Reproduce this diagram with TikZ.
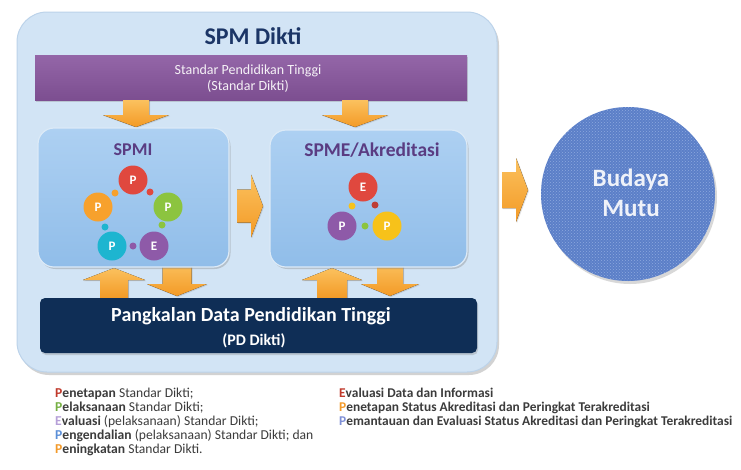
\documentclass[tikz,border=0pt]{standalone}
\usepackage{fontspec}
\setmainfont{Carlito}
\usetikzlibrary{shadows,patterns}
\definecolor{outerfill}{HTML}{D2E4F5}
\definecolor{outerdraw}{HTML}{BCD3EA}
\definecolor{titleblue}{HTML}{1B3566}
\definecolor{barpurple}{HTML}{7C4E90}
\definecolor{barpurpletop}{HTML}{9466A8}
\definecolor{innertop}{HTML}{ADD0F2}
\definecolor{innerbot}{HTML}{90BDE9}
\definecolor{innerdraw}{HTML}{DCEAF7}
\definecolor{boxtitle}{HTML}{5A3C82}
\definecolor{navy}{HTML}{0F2E56}
\definecolor{arrowtop}{HTML}{FBC15E}
\definecolor{arrowbot}{HTML}{F39A26}
\definecolor{budaya}{HTML}{5B7FC8}
\definecolor{budayalight}{HTML}{8EA9DE}
\definecolor{cred}{HTML}{E0483E}
\definecolor{cgreen}{HTML}{8CC43F}
\definecolor{corange}{HTML}{F7A12D}
\definecolor{cteal}{HTML}{1DB5D0}
\definecolor{cpurple}{HTML}{8E5AA8}
\definecolor{cyellow}{HTML}{F7C21A}
\definecolor{legtext}{HTML}{3C3C3C}
\definecolor{lred}{HTML}{C0392B}
\definecolor{lgreen}{HTML}{76B043}
\definecolor{llav}{HTML}{B6A0D8}
\definecolor{lblue}{HTML}{5B8FD8}
\definecolor{lorange}{HTML}{F39A2A}
\definecolor{lpurp}{HTML}{7E8FD6}
\newcommand\vertarr[6]{% cx, base y, tip y, shaft, head, signed headlen
  \fill[arrowstyle] ({#1-#4/2},#2) -- ({#1+#4/2},#2) -- ({#1+#4/2},{#3-#6}) -- ({#1+#5/2},{#3-#6}) -- (#1,#3) -- ({#1-#5/2},{#3-#6}) -- ({#1-#4/2},{#3-#6}) -- cycle;}
\newcommand\horarr[6]{% cy, base x, tip x, shaft, head, headlen
  \fill[arrowstyle] (#2,{#1-#4/2}) -- (#2,{#1+#4/2}) -- ({#3-#6},{#1+#4/2}) -- ({#3-#6},{#1+#5/2}) -- (#3,#1) -- ({#3-#6},{#1-#5/2}) -- ({#3-#6},{#1-#4/2}) -- cycle;}
\begin{document}
\begin{tikzpicture}[x=1pt,y=-1pt,
  arrowstyle/.style={top color=arrowtop,bottom color=arrowbot,drop shadow={opacity=0.25,shadow xshift=1pt,shadow yshift=-1pt}},
  innerbox/.style={rounded corners=16pt,top color=innertop,bottom color=innerbot,draw=innerdraw,line width=1.2pt,drop shadow={opacity=0.35,shadow xshift=1.5pt,shadow yshift=-2pt}},
  bigc/.style={circle,minimum size=29pt,inner sep=0pt,text=white,font=\fontsize{13}{13}\selectfont\bfseries},
  dot/.style={circle,minimum size=7pt,inner sep=0pt},
  leg/.style={anchor=base west,inner sep=0pt,text=legtext,font=\fontsize{13.6}{14}\selectfont}]
\useasboundingbox (0,0) rectangle (741,469);
\fill[white] (0,0) rectangle (741,469);
% outer container
\draw[outerdraw,fill=outerfill,line width=1pt,rounded corners=30pt,drop shadow={opacity=0.35,shadow xshift=2pt,shadow yshift=-3pt}] (17,12) rectangle (497,372);
\node[text=titleblue,font=\fontsize{24}{28}\selectfont\bfseries] (title) at (253,36) {SPM Dikti};
% purple bar
\node[draw=none,top color=barpurpletop,bottom color=barpurple,minimum width=432pt,minimum height=45pt,inner sep=0pt,drop shadow={opacity=0.3,shadow xshift=1pt,shadow yshift=-2pt}] (std) at (251,77.5) {};
\node[text=white!92!barpurple,font=\fontsize{14}{16}\selectfont,align=center] (stdtxt) at (248,79) {Standar Pendidikan Tinggi\\(Standar Dikti)};
% arrows top
\vertarr{136}{100}{127}{26}{66}{12}
\vertarr{355}{100}{127}{26}{66}{12}
% SPMI / SPME arrows to database (behind boxes)
\vertarr{177}{262}{296}{29}{60}{12}
\vertarr{390}{262}{296}{26}{58}{12}
\vertarr{114}{298}{268}{28}{62}{-12}
\vertarr{332}{298}{268}{30}{60}{-12}
% inner boxes
\path[innerbox] (38,128) rectangle (229,267);
\path[innerbox] (270,130) rectangle (467,267);
\node[text=boxtitle,font=\fontsize{18}{20}\selectfont\bfseries] (spmititle) at (133,150) {SPMI};
\node[text=boxtitle,font=\fontsize{19.5}{22}\selectfont\bfseries] (spmetitle) at (372,150) {SPME/Akreditasi};
% SPMI cycle
\node[bigc,fill=cred] (p1) at (133,180) {P};
\node[bigc,fill=cgreen] (p2) at (168,207) {P};
\node[bigc,fill=cpurple] (e1) at (154,246) {E};
\node[bigc,fill=cteal] (p3) at (112,246) {P};
\node[bigc,fill=corange] (p4) at (98,207) {P};
\node[dot,fill=cred] (d1) at (150,192) {};
\node[dot,fill=cgreen] (d2) at (162,225) {};
\node[dot,fill=cpurple] (d3) at (133,246) {};
\node[dot,fill=cteal] (d4) at (105,227) {};
\node[dot,fill=corange] (d5) at (115,193) {};
% SPME cycle
\node[bigc,fill=cred] (e2) at (363,187) {E};
\node[bigc,fill=cyellow] (p6) at (387,226) {P};
\node[bigc,fill=cpurple] (p5) at (342,226) {P};
\node[dot,fill=cred!85!black] (d6) at (375,205) {};
\node[dot,fill=cgreen] (d7) at (365,226) {};
\node[dot,fill=cyellow] (d8) at (352,206) {};
% middle arrow and right arrow
\horarr{206}{237}{263}{33}{63}{12}
\horarr{190}{502}{528}{36}{64}{12}
% database bar
\node[fill=navy,rounded corners=5pt,minimum width=437pt,minimum height=55pt,inner sep=0pt,drop shadow={opacity=0.3,shadow xshift=1pt,shadow yshift=-2pt}] (pd) at (258.5,325.5) {};
\node[text=white,font=\fontsize{20}{22}\selectfont\bfseries] (pdt1) at (251,316) {Pangkalan Data Pendidikan Tinggi};
\node[text=white,font=\fontsize{16}{18}\selectfont\bfseries] (pdt2) at (254,341) {(PD Dikti)};
% Budaya Mutu
\node[circle,minimum size=174pt,inner sep=0pt,fill=budaya,drop shadow={opacity=0.3,shadow xshift=2pt,shadow yshift=-3pt}] (bm) at (628,194) {};
\path[pattern=crosshatch dots,pattern color=budayalight] (bm.center) circle (87pt);
\node[text=white!90!budaya,font=\fontsize{25}{30}\selectfont\bfseries,align=center] (bmt) at (631,193) {Budaya\\Mutu};
% legend left
\node[leg] (l1) at (55,397) {\textcolor{lred}{\textbf{P}}\textbf{enetapan} Standar Dikti;};
\node[leg] (l2) at (55,411) {\textcolor{lgreen}{\textbf{P}}\textbf{elaksanaan} Standar Dikti;};
\node[leg] (l3) at (55,425) {\textcolor{llav}{\textbf{E}}\textbf{valuasi} (pelaksanaan) Standar Dikti;};
\node[leg] (l4) at (55,439) {\textcolor{lblue}{\textbf{P}}\textbf{engendalian} (pelaksanaan) Standar Dikti; dan};
\node[leg] (l5) at (55,453) {\textcolor{lorange}{\textbf{P}}\textbf{eningkatan} Standar Dikti.};
% legend right
\node[leg,font=\fontsize{13.4}{14}\selectfont\bfseries] (r1) at (339,397) {\textcolor{lred}{E}valuasi Data dan Informasi};
\node[leg,font=\fontsize{13.4}{14}\selectfont\bfseries] (r2) at (339,411) {\textcolor{lorange}{P}enetapan Status Akreditasi dan Peringkat Terakreditasi};
\node[leg,font=\fontsize{13.4}{14}\selectfont\bfseries] (r3) at (339,425) {\textcolor{lpurp}{P}emantauan dan Evaluasi Status Akreditasi dan Peringkat Terakreditasi};
\end{tikzpicture}
\end{document}
